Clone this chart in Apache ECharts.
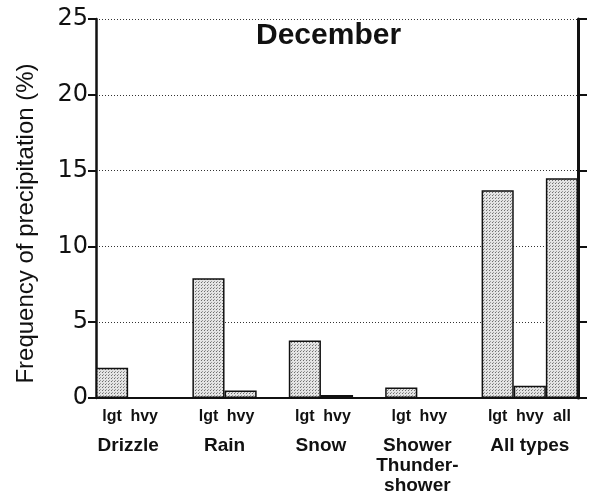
<!DOCTYPE html>
<html>
<head>
<meta charset="utf-8">
<script src="https://cdn.jsdelivr.net/npm/echarts@6/dist/echarts.min.js"></script>
<style>
  html, body { margin: 0; padding: 0; background: #fff; }
  #chart { width: 596px; height: 502px; }
</style>
</head>
<body>
<div id="chart"></div>
<script>
// Precipitation types, their intensity classes and the December frequencies (%)
const groupNames = ['Drizzle', 'Rain', 'Snow', 'Shower\nThunder-\nshower', 'All types'];
const subLabels = [
  ['lgt', 'hvy'],
  ['lgt', 'hvy'],
  ['lgt', 'hvy'],
  ['lgt', 'hvy'],
  ['lgt', 'hvy', 'all']
];
const frequency = [
  [2.0, 0],
  [7.9, 0.5],
  [3.8, 0.2],
  [0.7, 0],
  [13.7, 0.8, 14.5]
];
const yTicks = [0, 5, 10, 15, 20, 25];

// Flatten the groups into one category axis, with an empty slot between groups
const categories = [];
const values = [];
const groupCentre = {};
groupNames.forEach((name, g) => {
  const start = categories.length;
  subLabels[g].forEach((lab, i) => {
    categories.push(lab);
    values.push(frequency[g][i]);
  });
  groupCentre[Math.round((start + subLabels[g].length / 2) * 2)] = name;
  if (g < groupNames.length - 1) {
    categories.push('');
    values.push('-');
  }
});

// Stippled fill for the bars
const tile = document.createElement('canvas');
tile.width = 3; tile.height = 3;
const tc = tile.getContext('2d');
tc.fillStyle = '#e4e4e4';
tc.fillRect(0, 0, 3, 3);
tc.fillStyle = '#6e6e6e';
tc.fillRect(0, 0, 1, 1);
tc.fillStyle = '#9a9a9a';
tc.fillRect(1, 2, 1, 1);

const FONT = '"Liberation Sans", Arial, Helvetica, sans-serif';

const chart = echarts.init(document.getElementById('chart'), null, { renderer: 'canvas' });
chart.setOption({
  animation: false,
  backgroundColor: '#fff',
  title: {
    text: 'December',
    left: 256,
    top: 21,
    padding: 0,
    textStyle: { fontFamily: FONT, fontWeight: 'bold', fontSize: 30, color: '#111' }
  },
  grid: { left: 96, right: 18, top: 19, bottom: 104, containLabel: false },
  xAxis: [
    {
      type: 'category',
      data: categories,
      boundaryGap: true,
      axisLine: { lineStyle: { color: '#111', width: 2 } },
      axisTick: { alignWithLabel: true, length: 6, lineStyle: { color: '#111', width: 1.5 } },
      axisLabel: {
        interval: 0, margin: 11,
        fontFamily: FONT, fontWeight: 'bold', fontSize: 16, color: '#111'
      },
      splitLine: { show: false }
    },
    {
      type: 'value',
      position: 'bottom',
      min: 0,
      max: categories.length,
      interval: 0.5,
      offset: 30,
      axisLine: { show: false },
      axisTick: { show: false },
      splitLine: { show: false },
      axisLabel: {
        margin: 8,
        formatter: v => groupCentre[Math.round(v * 2)] || '',
        fontFamily: FONT, fontWeight: 'bold', fontSize: 19, lineHeight: 20, color: '#111',
        showMinLabel: true, showMaxLabel: true
      }
    }
  ],
  yAxis: [
    {
      type: 'value',
      min: yTicks[0],
      max: yTicks[yTicks.length - 1],
      interval: 5,
      position: 'left',
      name: 'Frequency of precipitation (%)',
      nameLocation: 'middle',
      nameGap: 58,
      nameTextStyle: { fontFamily: FONT, fontSize: 24, color: '#111', padding: [0, 30, 0, 0] },
      axisLine: { show: true, lineStyle: { color: '#111', width: 2.5 } },
      axisTick: { show: true, length: 8, lineStyle: { color: '#111', width: 2 } },
      axisLabel: { margin: 8, fontFamily: '"DejaVu Sans", sans-serif', fontSize: 24, color: '#111' },
      splitLine: { show: true, lineStyle: { color: '#333', width: 1, type: [1, 2] } }
    },
    {
      type: 'value',
      min: yTicks[0],
      max: yTicks[yTicks.length - 1],
      interval: 5,
      position: 'right',
      axisLine: { show: true, lineStyle: { color: '#111', width: 3 } },
      axisTick: { show: true, length: 9, lineStyle: { color: '#111', width: 2 } },
      axisLabel: { show: false },
      splitLine: { show: false }
    }
  ],
  series: [
    {
      type: 'bar',
      xAxisIndex: 0,
      yAxisIndex: 0,
      data: values,
      barCategoryGap: '0%',
      itemStyle: {
        color: { image: tile, repeat: 'repeat' },
        borderColor: '#111',
        borderWidth: 1.5
      }
    }
  ]
});
</script>
</body>
</html>
